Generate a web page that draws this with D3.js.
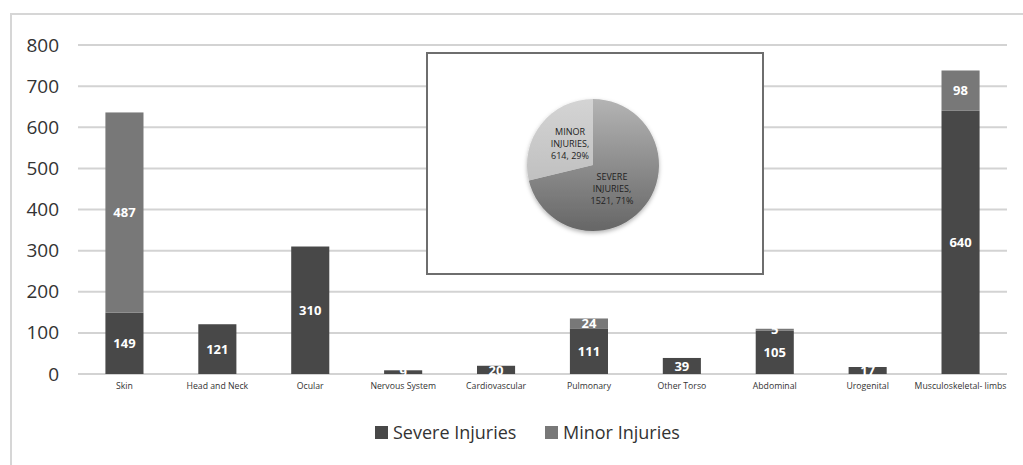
<!DOCTYPE html>
<html><head><meta charset="utf-8">
<script src="https://cdn.jsdelivr.net/npm/d3@7"></script>
<style>body{margin:0;background:#fff;}svg{display:block;}</style>
</head><body>
<script>
const categories = ["Skin","Head and Neck","Ocular","Nervous System","Cardiovascular","Pulmonary","Other Torso","Abdominal","Urogenital","Musculoskeletal- limbs"];
const severeValues = [149,121,310,9,20,111,39,105,17,640];
const minorValues = [487,0,0,0,0,24,0,5,0,98];
const yTicks = [0,100,200,300,400,500,600,700,800];
const seriesNames = ["Severe Injuries","Minor Injuries"];
const pieLabels = ["SEVERE INJURIES","MINOR INJURIES"];
const pieValues = [1521,614];
const piePercents = ["71%","29%"];

const W=1023,H=465;
const svg=d3.select("body").append("svg").attr("width",W).attr("height",H);
const font="'Open Sans', sans-serif";
const colSevere="#484848", colMinor="#787878";

// outer frame
svg.append("path").attr("d","M11,470 L11,14 L1030,14").attr("fill","none").attr("stroke","#d6d6d6").attr("stroke-width",2);

const x=d3.scaleBand().domain(categories).range([78,1007]).paddingInner(0.59).paddingOuter(0.295);
const y=d3.scaleLinear().domain([0,800]).range([374,45]);

// gridlines
svg.append("g").selectAll("line").data(yTicks).join("line")
  .attr("x1",78).attr("x2",1007).attr("y1",d=>y(d)).attr("y2",d=>y(d))
  .attr("stroke","#d3d3d3").attr("stroke-width",2);

// y axis labels
const yAxis=d3.axisLeft(y).tickValues(yTicks).tickSize(0).tickPadding(0);
const yg=svg.append("g").attr("transform","translate(59,0)").call(yAxis);
yg.select(".domain").remove();
yg.selectAll("text").attr("font-family",font).attr("font-size",19).attr("fill","#333");

// x axis labels
const xAxis=d3.axisBottom(x).tickSize(0).tickPadding(0);
const xg=svg.append("g").attr("transform","translate(0,383)").call(xAxis);
xg.select(".domain").remove();
xg.selectAll("text").attr("font-family",font).attr("font-size",8.7).attr("fill","#333");

// stacked bars
const data=categories.map((c,i)=>({c,s:severeValues[i],m:minorValues[i]}));
const bars=svg.append("g");
bars.selectAll("rect.sev").data(data).join("rect").attr("class","sev")
  .attr("x",d=>x(d.c)).attr("width",x.bandwidth())
  .attr("y",d=>y(d.s)).attr("height",d=>y(0)-y(d.s)).attr("fill",colSevere);
bars.selectAll("rect.min").data(data.filter(d=>d.m>0)).join("rect").attr("class","min")
  .attr("x",d=>x(d.c)).attr("width",x.bandwidth())
  .attr("y",d=>y(d.s+d.m)).attr("height",d=>y(d.s)-y(d.s+d.m)).attr("fill",colMinor);
bars.selectAll("text.sl").data(data).join("text").attr("class","sl")
  .attr("x",d=>x(d.c)+x.bandwidth()/2).attr("y",d=>(y(0)+y(d.s))/2).attr("dy","0.36em")
  .attr("text-anchor","middle").attr("font-family",font).attr("font-weight","bold").attr("font-size",13).attr("fill","#fff")
  .text(d=>d.s);
bars.selectAll("text.ml").data(data.filter(d=>d.m>0)).join("text").attr("class","ml")
  .attr("x",d=>x(d.c)+x.bandwidth()/2).attr("y",d=>(y(d.s)+y(d.s+d.m))/2).attr("dy","0.36em")
  .attr("text-anchor","middle").attr("font-family",font).attr("font-weight","bold").attr("font-size",13).attr("fill","#fff")
  .text(d=>d.m);

// inset pie
svg.append("rect").attr("x",427).attr("y",53).attr("width",336).attr("height",221)
  .attr("fill","#fff").attr("stroke","#6e6e6e").attr("stroke-width",2);
const defs=svg.append("defs");
const gS=defs.append("linearGradient").attr("id","gS").attr("x1",0).attr("y1",0).attr("x2",0).attr("y2",1);
gS.append("stop").attr("offset","0").attr("stop-color","#b4b4b4");
gS.append("stop").attr("offset","1").attr("stop-color","#666");
const gM=defs.append("linearGradient").attr("id","gM").attr("x1",0).attr("y1",0).attr("x2",0).attr("y2",1);
gM.append("stop").attr("offset","0").attr("stop-color","#d4d4d4");
gM.append("stop").attr("offset","1").attr("stop-color","#c0c0c0");
const flt=defs.append("filter").attr("id","sh").attr("x","-30%").attr("y","-30%").attr("width","160%").attr("height","160%");
flt.append("feDropShadow").attr("dx",0).attr("dy",2).attr("stdDeviation",2).attr("flood-color","#000").attr("flood-opacity",0.3);

const pie=d3.pie().sort(null).value(d=>d)(pieValues);
const arc=d3.arc().innerRadius(0).outerRadius(66);
const pg=svg.append("g").attr("transform","translate(593,165)");
pg.append("g").attr("filter","url(#sh)").selectAll("path").data(pie).join("path")
  .attr("d",arc).attr("fill",(d,i)=>i===0?"url(#gS)":"url(#gM)");
const lblPos=[[19,15],[-23,-30]];
pie.forEach((d,i)=>{
  const words=pieLabels[i].split(" ");
  const lines=[words[0],words[1]+",",pieValues[i]+", "+piePercents[i]];
  const t=pg.append("text").attr("text-anchor","middle").attr("font-family",font).attr("font-size",9).attr("fill","#222");
  lines.forEach((l,k)=>t.append("tspan").attr("x",lblPos[i][0]).attr("y",lblPos[i][1]+k*12).text(l));
});

// legend
const leg=svg.append("g").attr("transform","translate(375,433)");
const legItems=[{n:seriesNames[0],c:colSevere,x:0},{n:seriesNames[1],c:colMinor,x:170}];
legItems.forEach(d=>{
  leg.append("rect").attr("x",d.x).attr("y",-7).attr("width",13).attr("height",13).attr("fill",d.c);
  leg.append("text").attr("x",d.x+18).attr("y",0).attr("dy","0.36em").attr("font-family",font).attr("font-size",18).attr("fill","#333").text(d.n);
});
</script>
</body></html>
